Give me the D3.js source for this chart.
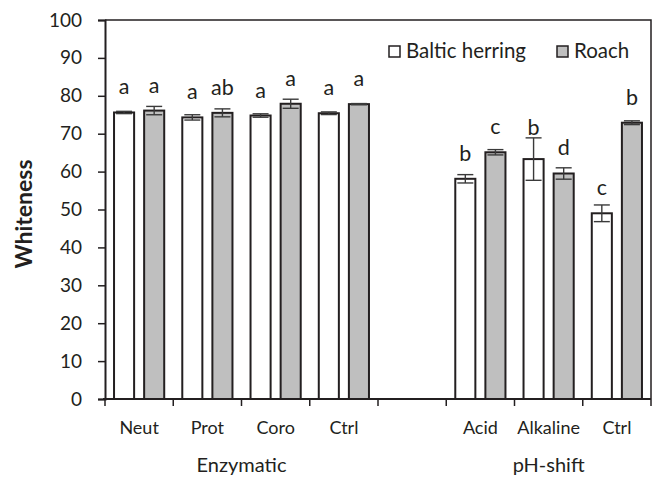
<!DOCTYPE html>
<html><head><meta charset="utf-8">
<script src="https://cdn.jsdelivr.net/npm/d3@7"></script>
<style>body{margin:0;background:#fff}svg{display:block}text{font-family:Lato,"Noto Sans",sans-serif;fill:#231f20}</style>
</head><body><svg id="c" width="653" height="479"></svg>
<script>
const slots = ["Neut","Prot","Coro","Ctrl_e","gap","Acid","Alkaline","Ctrl_p"];
const slotLabels = ["Neut","Prot","Coro","Ctrl","","Acid","Alkaline","Ctrl"];
const categories = ["Neut","Prot","Coro","Ctrl_e","Acid","Alkaline","Ctrl_p"];
const series = ["Baltic herring","Roach"];
const herring = [75.6, 74.3, 74.8, 75.4, 58.1, 63.3, 49.0];
const herringErr = [0.3, 0.7, 0.45, 0.35, 1.1, 5.6, 2.2];
const roach = [76.1, 75.5, 77.9, 77.8, 65.1, 59.5, 72.9];
const roachErr = [1.1, 1.05, 1.2, 0.15, 0.7, 1.5, 0.5];
const herringLetters = ["a","a","a","a","b","b","c"];
const roachLetters = ["a","ab","a","a","c","d","b"];
const groups = [{name:"Enzymatic", from:"Neut", to:"Ctrl_e"},{name:"pH-shift", from:"Acid", to:"Ctrl_p"}];
const yTicks = [0,10,20,30,40,50,60,70,80,90,100];

const svg = d3.select("#c");
const L=105,R=651,T=20,B=399;
const x = d3.scaleBand().domain(slots).range([L,R]);
const xs = d3.scaleBand().domain(series).range([0,x.bandwidth()]).paddingInner(0.333).paddingOuter(0.3);
const y = d3.scaleLinear().domain([0,100]).range([B,T]);
const ink="#231f20";

const data=[];
categories.forEach((c,i)=>{
  data.push({c,s:series[0],v:herring[i],e:herringErr[i],l:herringLetters[i],fill:"#ffffff"});
  data.push({c,s:series[1],v:roach[i],e:roachErr[i],l:roachLetters[i],fill:"#bfbfbf"});
});

// bars
svg.append("g").selectAll("rect").data(data).join("rect")
  .attr("x",d=>x(d.c)+xs(d.s)).attr("width",xs.bandwidth())
  .attr("y",d=>y(d.v)).attr("height",d=>y(0)-y(d.v))
  .attr("fill",d=>d.fill).attr("stroke",ink).attr("stroke-width",2);

// error bars
const eg=svg.append("g").attr("stroke","#3a3a3a").attr("stroke-width",1.4);
data.forEach(d=>{
  const cx=x(d.c)+xs(d.s)+xs.bandwidth()/2;
  eg.append("line").attr("x1",cx).attr("x2",cx).attr("y1",y(d.v+d.e)).attr("y2",y(d.v-d.e));
  [d.v+d.e,d.v-d.e].forEach(v=>eg.append("line").attr("x1",cx-8).attr("x2",cx+8).attr("y1",y(v)).attr("y2",y(v)));
});

// letters
svg.append("g").selectAll("text").data(data).join("text")
  .attr("x",d=>x(d.c)+xs(d.s)+xs.bandwidth()/2)
  .attr("y",d=>Math.min(y(d.v)-18, y(d.v+d.e)-3))
  .attr("text-anchor","middle").attr("font-size",21.5).text(d=>d.l);

// frame
svg.append("path").attr("d",`M${L},${T}H${R}V${B}`).attr("fill","none").attr("stroke",ink).attr("stroke-width",1.5);

// y axis
const ya=svg.append("g").attr("transform",`translate(${L},0)`)
  .call(d3.axisLeft(y).tickValues(yTicks).tickSize(7).tickPadding(16));
ya.select(".domain").attr("stroke",ink).attr("stroke-width",2);
ya.selectAll(".tick line").attr("stroke",ink).attr("stroke-width",1.5);
ya.selectAll("text").attr("font-size",19).attr("fill",ink).style("font-family","Lato");

// x axis
const xa=svg.append("g").attr("transform",`translate(0,${B})`)
  .call(d3.axisBottom(x).tickSize(0).tickPadding(22).tickFormat((d,i)=>slotLabels[i]));
xa.select(".domain").remove();
xa.selectAll("text").attr("font-size",18).attr("fill",ink).style("font-family","Lato");
svg.append("line").attr("x1",L-2).attr("x2",R).attr("y1",B).attr("y2",B).attr("stroke",ink).attr("stroke-width",2);
const bounds = slots.map(s=>x(s)).concat([R]);
svg.append("g").selectAll("line").data(bounds).join("line")
  .attr("x1",d=>d).attr("x2",d=>d).attr("y1",B).attr("y2",B+7).attr("stroke",ink).attr("stroke-width",1.5);

// group labels
svg.append("g").selectAll("text").data(groups).join("text")
  .attr("x",g=>(x(g.from)+x(g.to)+x.bandwidth())/2).attr("y",472)
  .attr("text-anchor","middle").attr("font-size",20).text(g=>g.name);

// y title
svg.append("text").attr("transform","translate(32,214) rotate(-90)").attr("text-anchor","middle")
  .attr("font-size",23).attr("font-weight","bold").text("Whiteness");

// legend
const leg=[{s:series[0],fill:"#ffffff",x:389},{s:series[1],fill:"#bfbfbf",x:557}];
const lg=svg.append("g").selectAll("g").data(leg).join("g").attr("transform",d=>`translate(${d.x},46)`);
lg.append("rect").attr("width",11).attr("height",11).attr("fill",d=>d.fill).attr("stroke",ink).attr("stroke-width",1.5);
lg.append("text").attr("x",17).attr("y",11.5).attr("font-size",20.5).text(d=>d.s);
</script></body></html>
